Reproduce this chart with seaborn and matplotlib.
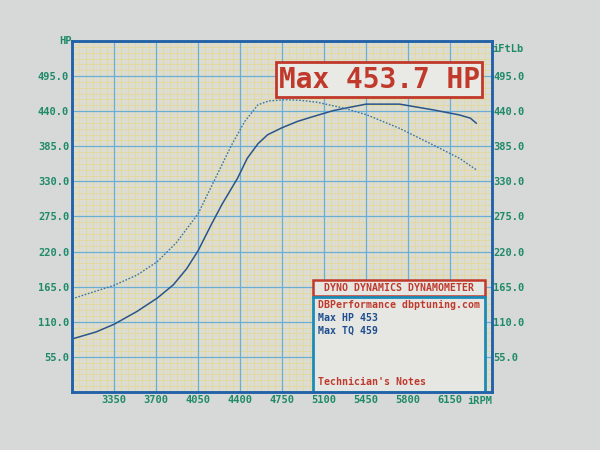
import matplotlib
matplotlib.use("Agg")
import numpy as np
import pandas as pd
import matplotlib.pyplot as plt
from matplotlib.ticker import AutoMinorLocator
from matplotlib.patches import Rectangle
import seaborn as sns

sns.set_theme(style="white")
plt.rcParams["font.family"] = ["DejaVu Sans Mono", "DejaVu Sans"]

# values
hp_rpm = [3000, 3200, 3350, 3540, 3710, 3845, 3955, 4050, 4160, 4250, 4380, 4460, 4550,
          4630, 4750, 4880, 5000, 5180, 5450, 5730, 6010, 6230, 6320, 6370]
hp_val = [83, 94, 106, 126, 147, 168, 193, 221, 262, 294, 335, 366, 389,
          403, 414, 424, 431, 441, 451, 451, 442, 434, 429, 421]
tq_rpm = [3000, 3350, 3540, 3710, 3870, 4050, 4190, 4330, 4440, 4550, 4640, 4780, 4900,
          5040, 5260, 5460, 5730, 6010, 6230, 6370]
tq_val = [146, 167, 183, 204, 234, 279, 333, 387, 424, 450, 456, 458, 457,
          454, 445, 434, 413, 387, 366, 348]

rpm_ticks = [3000, 3350, 3700, 4050, 4400, 4750, 5100, 5450, 5800, 6150, 6500]
val_ticks = [0, 55, 110, 165, 220, 275, 330, 385, 440, 495, 550]

title_text = "Max 453.7 HP"
header_text = "DYNO DYNAMICS DYNAMOMETER"
info_lines = ["DBPerformance dbptuning.com", "Max HP 453", "Max TQ 459"]
notes_text = "Technician's Notes"

GREEN = "#1f8a68"
RED = "#c0392b"
NAVY = "#1f4f8f"
TEAL = "#1b8bb8"
FRAME = "#2262a8"

hp_df = pd.DataFrame({"rpm": hp_rpm, "value": hp_val})
tq_df = pd.DataFrame({"rpm": tq_rpm, "value": tq_val})

fig = plt.figure(figsize=(6, 4.5), dpi=100, facecolor="#d7d9d9")
pos = [0.12, 0.129, 0.70, 0.78]

# fine yellow graph paper behind everything
bg = fig.add_axes(pos)
bg.set_facecolor("#dcdcd0")
bg.set_xlim(3000, 6500)
bg.set_ylim(0, 550)
bg.set_xticks(rpm_ticks)
bg.set_yticks(val_ticks)
bg.xaxis.set_minor_locator(AutoMinorLocator(6))
bg.yaxis.set_minor_locator(AutoMinorLocator(6))
bg.grid(which="minor", color="#e4d89c", linewidth=0.6)
bg.tick_params(which="both", length=0, labelbottom=False, labelleft=False)
for sp in bg.spines.values():
    sp.set_visible(False)

ax = fig.add_axes(pos)
ax.patch.set_visible(False)

sns.lineplot(data=hp_df, x="rpm", y="value", ax=ax, color="#29558a", linewidth=1.1)
sns.lineplot(data=tq_df, x="rpm", y="value", ax=ax, color="#3a76a8",
             linewidth=1.0, linestyle=(0, (1.2, 1.2)))

ax.set_xlim(3000, 6500)
ax.set_ylim(0, 550)
ax.set_xticks(rpm_ticks)
ax.set_yticks(val_ticks)
ax.grid(which="major", color="#6aaed4", linewidth=0.9)
ax.set_axisbelow(True)

tick_font = dict(family="DejaVu Sans Mono", weight="bold", size=7.5)
ax.set_xticklabels([""] + [str(t) for t in rpm_ticks[1:-1]] + [""], color=GREEN, **tick_font)
ax.set_yticklabels([""] + [f"{t:.1f}" for t in val_ticks[1:-1]] + [""], color=GREEN, **tick_font)
ax.tick_params(which="both", length=0, pad=2)
ax.set_xlabel("")
ax.set_ylabel("")

ax2 = ax.twinx()
ax2.set_ylim(0, 550)
ax2.set_yticks(val_ticks)
ax2.set_yticklabels([""] + [f"{t:.1f}" for t in val_ticks[1:-1]] + [""], color=GREEN, **tick_font)
ax2.tick_params(length=0, pad=1)
ax2.grid(False)

for a in (ax, ax2):
    for sp in a.spines.values():
        sp.set_color(FRAME)
        sp.set_linewidth(1.8)

ax.text(0.0, 1.0, "HP", transform=ax.transAxes, ha="right", va="center",
        color=GREEN, **tick_font)
ax.text(1.0, 0.99, "iFtLb", transform=ax.transAxes, ha="left", va="top",
        color=GREEN, **tick_font)
ax.text(6500, -7, "iRPM", ha="right", va="top", color=GREEN, **tick_font)

# title box
ax.add_patch(Rectangle((0.485, 0.84), 0.492, 0.1, transform=ax.transAxes,
                       facecolor="#e9e9e6", edgecolor=RED, linewidth=2, zorder=5))
ax.text(0.731, 0.889, title_text, transform=ax.transAxes, ha="center", va="center",
        color=RED, fontsize=20, weight="bold", family="DejaVu Sans Mono", zorder=6)

# info box
info_font = dict(family="DejaVu Sans Mono", weight="bold", size=7.1)
ax.add_patch(Rectangle((0.574, 0.273), 0.41, 0.046, transform=ax.transAxes,
                       facecolor="#e6e6e3", edgecolor=RED, linewidth=1.8, zorder=5))
ax.text(0.779, 0.296, header_text, transform=ax.transAxes, ha="center", va="center",
        color=RED, zorder=6, **info_font)
ax.add_patch(Rectangle((0.574, 0.0), 0.41, 0.27, transform=ax.transAxes,
                       facecolor="#e6e6e3", edgecolor=TEAL, linewidth=2, zorder=5))
line_colors = [RED, NAVY, NAVY]
line_y = [0.248, 0.210, 0.175]
for txt, c, yy in zip(info_lines, line_colors, line_y):
    ax.text(0.586, yy, txt, transform=ax.transAxes, ha="left", va="center",
            color=c, zorder=6, **info_font)
ax.text(0.586, 0.029, notes_text, transform=ax.transAxes, ha="left", va="center",
        color=RED, zorder=6, **info_font)

fig.savefig("out.png", dpi=100, facecolor=fig.get_facecolor())
